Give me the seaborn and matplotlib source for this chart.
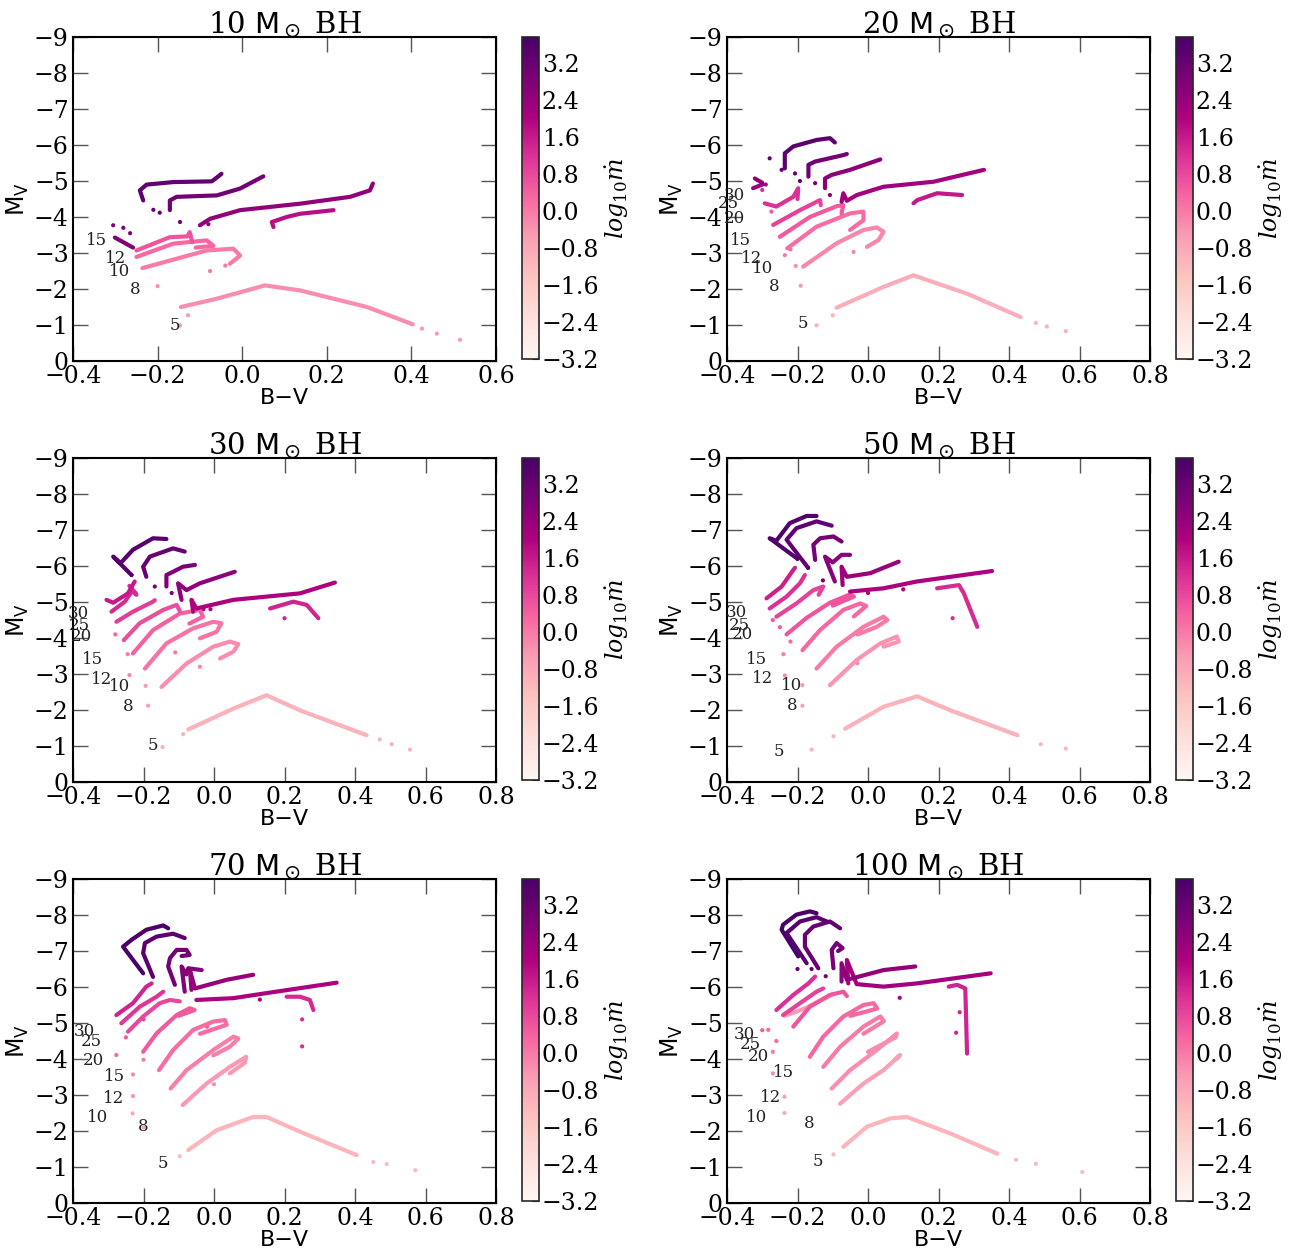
import numpy as np
import pandas as pd
import matplotlib
matplotlib.use("Agg")
import matplotlib.pyplot as plt
import seaborn as sns
from matplotlib.colors import Normalize
from matplotlib.cm import ScalarMappable
from matplotlib.ticker import FuncFormatter

# panel titles (black hole mass) and stellar masses used to label the tracks
bh_masses = [10, 20, 30, 50, 70, 100]
star_masses = [5, 8, 10, 12, 15, 20, 25, 30]

# colour scale of log10(mdot)
mdot_min, mdot_max = -3.2, 3.76
cbar_ticks = [-3.2, -2.4, -1.6, -0.8, 0.0, 0.8, 1.6, 2.4, 3.2]

# tracks: (log10 mdot, B-V values, M_V values)
tracks_10 = [
    (-0.3, [-0.145, -0.06, 0.054, 0.137, 0.295, 0.403], [-1.5, -1.73, -2.10, -1.96, -1.5, -1.02]),
    (0.0, [-0.236, -0.084, -0.021, -0.005, -0.029], [-2.58, -3.07, -3.12, -2.93, -2.7]),
    (0.3, [-0.25, -0.163, -0.084, -0.068, -0.11], [-2.89, -3.26, -3.35, -3.2, -3.15]),
    (0.6, [-0.25, -0.171, -0.13, -0.124, -0.118], [-3.07, -3.44, -3.46, -3.58, -3.3]),
    (2.8, [-0.301, -0.258], [-3.43, -3.15]),
    (3.3, [-0.234, -0.242, -0.226, -0.163, -0.072, -0.065, -0.049], [-4.46, -4.74, -4.9, -4.97, -4.99, -5.05, -5.2]),
    (3.0, [-0.171, -0.171, -0.155, -0.06, -0.005, 0.05], [-4.19, -4.46, -4.56, -4.6, -4.79, -5.13]),
    (2.5, [-0.1, -0.076, -0.005, 0.137, 0.255, 0.302, 0.309], [-3.77, -3.95, -4.19, -4.37, -4.56, -4.74, -4.93]),
    (1.8, [0.074, 0.07, 0.105, 0.137, 0.216], [-3.72, -3.86, -4.0, -4.09, -4.19]),
]
tracks_20 = [
    (-0.9, [-0.089, 0.044, 0.129, 0.281, 0.433], [-1.48, -2.06, -2.38, -1.87, -1.22]),
    (-0.2, [-0.184, -0.089, -0.013, 0.025, 0.044, 0.03, -0.003], [-2.62, -3.27, -3.64, -3.71, -3.59, -3.36, -3.17]),
    (0.2, [-0.229, -0.146, -0.051, -0.013, -0.013, -0.051], [-3.13, -3.73, -4.1, -4.15, -3.91, -3.64]),
    (0.5, [-0.25, -0.165, -0.089, -0.07, -0.075], [-3.45, -4.0, -4.3, -4.33, -4.1]),
    (0.9, [-0.269, -0.193, -0.136, -0.134], [-3.78, -4.19, -4.47, -4.33]),
    (1.2, [-0.293, -0.26, -0.212, -0.198, -0.2], [-4.38, -4.29, -4.56, -4.8, -4.5]),
    (2.3, [-0.326, -0.3], [-4.8, -4.9]),
    (2.6, [-0.321, -0.3], [-5.07, -4.95]),
    (3.4, [-0.236, -0.236, -0.212, -0.146, -0.108, -0.094], [-5.35, -5.77, -5.96, -6.14, -6.19, -6.07]),
    (3.0, [-0.169, -0.169, -0.15, -0.07, -0.06], [-5.12, -5.45, -5.54, -5.72, -5.75]),
    (2.6, [-0.122, -0.122, -0.103, -0.051, 0.035], [-4.8, -5.07, -5.17, -5.31, -5.6]),
    (2.2, [-0.075, -0.07, -0.06, -0.032, 0.044, 0.186, 0.329], [-4.42, -4.66, -4.45, -4.61, -4.84, -4.98, -5.31]),
    (1.6, [0.129, 0.14, 0.196, 0.267], [-4.38, -4.47, -4.66, -4.61]),
]
tracks_30 = [
    (-1.0, [-0.073, 0.055, 0.149, 0.244, 0.433], [-1.46, -2.04, -2.41, -1.99, -1.3]),
    (-0.3, [-0.149, -0.078, -0.002, 0.045, 0.069, 0.055, 0.017], [-2.64, -3.29, -3.76, -3.9, -3.83, -3.62, -3.43]),
    (0.1, [-0.196, -0.135, -0.059, -0.002, 0.021, 0.007, -0.04], [-3.15, -3.85, -4.27, -4.45, -4.41, -4.17, -3.99]),
    (0.4, [-0.23, -0.173, -0.097, -0.04, -0.031, -0.07], [-3.57, -4.22, -4.68, -4.78, -4.59, -4.4]),
    (0.7, [-0.256, -0.211, -0.144, -0.106, -0.097], [-3.94, -4.41, -4.78, -4.92, -4.75]),
    (1.0, [-0.277, -0.23, -0.173, -0.168], [-4.45, -4.73, -5.01, -5.05]),
    (1.3, [-0.291, -0.253, -0.23, -0.22, -0.24], [-4.73, -5.01, -5.33, -5.2, -5.45]),
    (1.6, [-0.305, -0.286, -0.244, -0.225], [-5.06, -4.98, -5.24, -5.57]),
    (3.5, [-0.234, -0.286, -0.265, -0.23, -0.173, -0.135], [-5.75, -6.26, -6.08, -6.45, -6.77, -6.75]),
    (3.2, [-0.192, -0.201, -0.182, -0.116, -0.083], [-5.7, -5.98, -6.26, -6.49, -6.4]),
    (2.8, [-0.135, -0.135, -0.116, -0.088, -0.054], [-5.43, -5.75, -5.84, -5.98, -6.03]),
    (2.5, [-0.092, -0.102, -0.078, -0.04, 0.059], [-5.06, -5.52, -5.33, -5.52, -5.84]),
    (2.0, [-0.059, -0.064, -0.05, 0.055, 0.244, 0.343], [-4.73, -5.06, -4.82, -5.06, -5.24, -5.54]),
    (1.4, [0.159, 0.225, 0.263, 0.296], [-4.82, -5.01, -4.92, -4.55]),
]
tracks_50 = [
    (-1.0, [-0.065, 0.044, 0.139, 0.234, 0.424], [-1.48, -2.09, -2.38, -1.99, -1.3]),
    (-0.4, [-0.108, -0.032, 0.035, 0.082, 0.087, 0.044], [-2.69, -3.39, -3.85, -4.04, -3.9, -3.76]),
    (0.0, [-0.146, -0.089, -0.013, 0.044, 0.055, 0.025, -0.03], [-3.15, -3.76, -4.31, -4.59, -4.5, -4.31, -4.1]),
    (0.3, [-0.186, -0.136, -0.07, -0.022, -0.005, -0.04], [-3.66, -4.22, -4.78, -4.96, -4.89, -4.6]),
    (0.6, [-0.231, -0.174, -0.108, -0.051, -0.04, -0.1], [-4.1, -4.56, -4.98, -5.21, -5.15, -4.9]),
    (0.9, [-0.26, -0.203, -0.155, -0.127, -0.14], [-4.59, -4.96, -5.33, -5.43, -5.2]),
    (1.2, [-0.279, -0.231, -0.193, -0.179], [-4.82, -5.15, -5.52, -5.75]),
    (1.5, [-0.288, -0.245, -0.212, -0.207], [-5.1, -5.43, -5.89, -5.95]),
    (3.6, [-0.2, -0.279, -0.26, -0.222, -0.174, -0.146], [-6.2, -6.77, -6.7, -7.19, -7.39, -7.39]),
    (3.3, [-0.17, -0.231, -0.203, -0.146, -0.103], [-5.95, -6.73, -7.05, -7.24, -7.12]),
    (2.9, [-0.15, -0.155, -0.136, -0.098, -0.075], [-6.17, -6.59, -6.77, -6.82, -6.68]),
    (2.6, [-0.094, -0.122, -0.1, -0.075, -0.051], [-5.57, -6.26, -6.1, -6.31, -6.31]),
    (2.3, [-0.072, -0.075, -0.06, 0.006, 0.087], [-5.47, -5.98, -5.7, -5.8, -6.12]),
    (2.0, [-0.051, 0.044, 0.139, 0.352], [-5.29, -5.38, -5.57, -5.86]),
    (1.3, [0.196, 0.258, 0.272, 0.31], [-5.38, -5.47, -5.24, -4.31]),
]
tracks_70 = [
    (-1.1, [-0.073, 0.007, 0.111, 0.149, 0.244, 0.405], [-1.47, -2.02, -2.39, -2.39, -1.98, -1.33]),
    (-0.5, [-0.089, -0.021, 0.045, 0.091, 0.088, 0.045], [-2.72, -3.32, -3.78, -4.06, -3.9, -3.6]),
    (-0.1, [-0.123, -0.078, -0.002, 0.055, 0.069, 0.045, -0.002], [-3.18, -3.69, -4.25, -4.62, -4.57, -4.34, -4.1]),
    (0.2, [-0.156, -0.116, -0.059, -0.002, 0.031, 0.036, -0.04], [-3.69, -4.25, -4.81, -5.04, -5.08, -4.95, -4.7]),
    (0.5, [-0.201, -0.163, -0.106, -0.069, -0.055, -0.1], [-4.2, -4.71, -5.22, -5.41, -5.36, -5.2]),
    (0.8, [-0.244, -0.201, -0.154, -0.125, -0.097], [-4.76, -5.18, -5.55, -5.64, -5.6]),
    (1.1, [-0.263, -0.211, -0.163, -0.144], [-4.99, -5.45, -5.73, -5.87]),
    (1.4, [-0.277, -0.23, -0.192, -0.177], [-5.22, -5.55, -6.01, -6.1]),
    (3.7, [-0.201, -0.258, -0.234, -0.192, -0.144, -0.13], [-6.38, -7.12, -7.31, -7.59, -7.71, -7.63]),
    (3.4, [-0.173, -0.201, -0.196, -0.163, -0.116, -0.083], [-6.28, -6.94, -7.22, -7.4, -7.48, -7.36]),
    (3.0, [-0.111, -0.13, -0.125, -0.106, -0.078, -0.069, -0.092], [-6.06, -6.57, -6.8, -7.03, -7.03, -6.89, -6.86]),
    (2.7, [-0.083, -0.092, -0.078, -0.073, -0.035], [-5.87, -6.57, -6.35, -6.52, -6.47]),
    (2.4, [-0.064, -0.068, -0.054, 0.036, 0.111], [-5.92, -6.45, -5.96, -6.2, -6.34]),
    (2.0, [-0.05, 0.055, 0.149, 0.348], [-5.64, -5.69, -5.83, -6.12]),
    (1.3, [0.206, 0.244, 0.272, 0.282], [-5.73, -5.73, -5.64, -5.36]),
]
tracks_100 = [
    (-1.1, [-0.07, -0.003, 0.063, 0.11, 0.234, 0.367], [-1.56, -2.12, -2.35, -2.39, -1.93, -1.37]),
    (-0.6, [-0.079, -0.013, 0.044, 0.091, 0.08], [-2.76, -3.32, -3.69, -4.11, -4.0]),
    (-0.3, [-0.103, -0.051, 0.025, 0.082, 0.078, 0.0], [-3.18, -3.69, -4.25, -4.71, -4.6, -4.2]),
    (0.0, [-0.127, -0.079, -0.013, 0.035, 0.045, -0.013], [-3.78, -4.34, -4.9, -5.18, -5.05, -4.7]),
    (0.3, [-0.165, -0.127, -0.07, -0.013, 0.016, 0.026, -0.05], [-4.06, -4.62, -5.18, -5.5, -5.55, -5.4, -5.2]),
    (0.6, [-0.212, -0.165, -0.108, -0.07, -0.06], [-4.9, -5.45, -5.78, -5.87, -5.75]),
    (0.9, [-0.241, -0.193, -0.146, -0.127], [-5.22, -5.55, -5.87, -5.96]),
    (-0.5, [-0.236, -0.18, -0.1], [-5.2, -5.4, -5.8]),
    (1.2, [-0.26, -0.212, -0.169, -0.15], [-5.36, -5.78, -6.1, -6.29]),
    (3.8, [-0.198, -0.245, -0.241, -0.203, -0.165, -0.146], [-6.85, -7.59, -7.73, -8.01, -8.1, -8.05]),
    (3.5, [-0.174, -0.231, -0.193, -0.146, -0.117], [-6.66, -7.5, -7.82, -7.94, -7.82]),
    (3.2, [-0.141, -0.179, -0.179, -0.155, -0.108, -0.079], [-6.52, -7.12, -7.45, -7.68, -7.82, -7.63]),
    (2.9, [-0.098, -0.103, -0.089, -0.072, -0.085], [-6.52, -7.03, -7.22, -7.08, -7.0]),
    (2.5, [-0.075, -0.075, -0.06, 0.044, 0.134], [-6.15, -6.66, -6.2, -6.47, -6.57]),
    (2.2, [-0.056, -0.06, -0.032, 0.044, 0.139, 0.348], [-6.1, -6.75, -6.08, -6.01, -6.1, -6.38]),
    (1.4, [0.229, 0.253, 0.276, 0.281], [-6.01, -6.06, -5.96, -4.15]),
]

# isolated points between the dense parts of the tracks: (B-V, M_V, log10 mdot)
dots_10 = [(-0.147, -0.99, -0.5), (-0.128, -1.27, -0.5), (0.425, -0.9, -0.5), (0.46, -0.76, -0.5),
           (0.515, -0.59, -0.5), (-0.2, -2.08, -0.3), (-0.076, -2.5, 0.0), (-0.04, -2.65, 0.0),
           (-0.305, -3.77, 2.8), (-0.281, -3.7, 2.8), (-0.265, -3.55, 2.8), (-0.195, -4.12, 3.3),
           (-0.21, -4.2, 3.3), (-0.147, -3.86, 3.0), (-0.08, -3.8, 2.5)]
dots_20 = [(-0.146, -0.99, -1.0), (-0.1, -1.27, -1.0), (0.476, -1.06, -1.0), (0.507, -0.96, -1.0),
           (0.561, -0.83, -1.0), (-0.191, -2.09, -0.5), (-0.041, -3.03, -0.2), (-0.205, -2.64, -0.3),
           (-0.236, -2.94, 0.0), (-0.22, -3.1, 0.2), (-0.274, -4.15, 0.5), (-0.279, -5.63, 3.2),
           (-0.245, -5.31, 3.2), (-0.207, -5.21, 3.2), (-0.193, -5.0, 3.2), (-0.15, -4.94, 3.0),
           (-0.108, -4.61, 2.6), (-0.3, -4.75, 1.2), (-0.29, -4.9, 2.0)]
dots_30 = [(-0.146, -0.97, -1.0), (-0.0875, -1.33, -1.0), (0.47, -1.18, -1.0), (0.504, -1.05, -1.0),
           (0.556, -0.9, -1.0), (-0.187, -2.12, -0.6), (-0.194, -2.67, -0.5), (-0.24, -2.97, -0.2),
           (-0.245, -3.55, 0.0), (-0.04, -3.2, -0.2), (-0.11, -3.6, 0.0), (-0.28, -4.1, 0.3),
           (-0.234, -5.75, 3.2), (-0.168, -5.43, 3.0), (-0.12, -5.25, 2.8), (0.2, -4.55, 1.4),
           (-0.03, -4.8, 2.0), (-0.01, -4.8, 2.0)]
dots_50 = [(-0.098, -1.27, -1.1), (-0.16, -0.9, -1.1), (0.49, -1.05, -1.1), (0.561, -0.93, -1.1),
           (-0.186, -2.12, -0.6), (-0.186, -2.69, -0.5), (-0.236, -2.96, -0.3), (-0.24, -3.55, 0.0),
           (-0.22, -3.9, 0.2), (-0.27, -4.5, 0.5), (-0.25, -4.3, 0.5), (-0.03, -3.3, -0.2),
           (0.24, -4.55, 1.3), (-0.2, -6.2, 3.3), (-0.17, -5.95, 3.3), (-0.128, -5.6, 3.0),
           (0.1, -5.35, 2.0), (0.0, -5.25, 2.0)]
dots_70 = [(-0.097, -1.3, -1.2), (0.452, -1.14, -1.2), (0.49, -1.08, -1.2), (0.571, -0.91, -1.2),
           (-0.2, -2.1, -0.8), (-0.231, -2.49, -0.8), (-0.23, -2.97, -0.4), (-0.23, -3.57, -0.2),
           (-0.2, -3.98, 0.0), (-0.277, -4.11, 0.3), (-0.25, -4.6, 0.5), (0.0, -3.3, -0.3),
           (0.25, -5.1, 1.3), (0.25, -4.35, 1.3), (-0.02, -4.9, 0.5), (-0.2, -5.1, 0.8),
           (0.13, -5.65, 2.0)]
dots_100 = [(-0.098, -1.35, -1.2), (0.476, -1.09, -1.2), (0.608, -0.86, -1.2), (0.42, -1.2, -1.2),
            (-0.237, -2.5, -0.8), (-0.237, -2.95, -0.6), (-0.27, -3.6, -0.3), (-0.27, -4.2, 0.0),
            (-0.283, -4.81, 0.3), (-0.26, -4.5, 0.3), (-0.3, -4.8, 0.5), (0.25, -4.73, 1.4),
            (0.26, -5.3, 1.4), (0.09, -5.7, 2.0), (-0.2, -6.5, 3.3), (-0.16, -6.5, 3.3),
            (-0.12, -6.3, 3.0)]

# where the stellar mass labels sit (B-V, M_V), in the order of star_masses
labels_10 = [(-0.159, -0.99), (-0.254, -2.0), (-0.29, -2.5), (-0.3, -2.84), (-0.345, -3.35)]
labels_20 = [(-0.184, -1.04), (-0.267, -2.06), (-0.3, -2.57), (-0.331, -2.85), (-0.362, -3.36),
             (-0.378, -3.96), (-0.397, -4.38), (-0.378, -4.61)]
labels_30 = [(-0.173, -1.02), (-0.244, -2.09), (-0.267, -2.64), (-0.32, -2.85), (-0.345, -3.39),
             (-0.376, -4.04), (-0.381, -4.36), (-0.386, -4.68)]
labels_50 = [(-0.252, -0.85), (-0.214, -2.13), (-0.217, -2.69), (-0.298, -2.87), (-0.315, -3.4),
             (-0.356, -4.1), (-0.364, -4.36), (-0.372, -4.7)]
labels_70 = [(-0.144, -1.11), (-0.201, -2.13), (-0.329, -2.37), (-0.286, -2.9), (-0.282, -3.51),
             (-0.343, -3.97), (-0.348, -4.48), (-0.367, -4.76)]
labels_100 = [(-0.141, -1.14), (-0.168, -2.21), (-0.317, -2.37), (-0.277, -2.92), (-0.241, -3.62),
              (-0.312, -4.06), (-0.335, -4.39), (-0.35, -4.67)]

all_tracks = [tracks_10, tracks_20, tracks_30, tracks_50, tracks_70, tracks_100]
all_dots = [dots_10, dots_20, dots_30, dots_50, dots_70, dots_100]
all_labels = [labels_10, labels_20, labels_30, labels_50, labels_70, labels_100]
x_max = [0.6, 0.8, 0.8, 0.8, 0.8, 0.8]

sns.set_style("ticks")
plt.rcParams["font.family"] = ["DejaVu Serif"]
plt.rcParams["mathtext.fontset"] = "dejavusans"
plt.rcParams["axes.linewidth"] = 1.5
plt.rcParams["text.color"] = "black"
plt.rcParams["axes.labelcolor"] = "black"
plt.rcParams["xtick.labelcolor"] = "black"
plt.rcParams["ytick.labelcolor"] = "black"


def minus_fmt(fmt):
    return FuncFormatter(lambda v, pos: (fmt % v).replace("-", "\u2212"))


W, H = 1298, 1259
fig = plt.figure(figsize=(W / 100, H / 100), dpi=100)
norm = Normalize(mdot_min, mdot_max)

ax_left = [73, 727]
ax_top = [37, 458, 879]
ax_w, ax_h = 423, 324
cb_left = [522, 1176]
cb_w = 17

for i, bh in enumerate(bh_masses):
    row, col = divmod(i, 2)
    ax = fig.add_axes([ax_left[col] / W, 1 - (ax_top[row] + ax_h) / H, ax_w / W, ax_h / H])

    rows = []
    for k, (m, bv, mv) in enumerate(all_tracks[i]):
        for x, y in zip(bv, mv):
            rows.append({"track": k, "bv": x, "mv": y, "logm": m})
    df = pd.DataFrame(rows)
    sns.lineplot(data=df, x="bv", y="mv", hue="logm", units="track", estimator=None,
                 sort=False, palette="RdPu", hue_norm=norm, legend=False, lw=3.0, ax=ax)

    dots = pd.DataFrame(all_dots[i], columns=["bv", "mv", "logm"])
    sns.scatterplot(data=dots, x="bv", y="mv", hue="logm", palette="RdPu", hue_norm=norm,
                    s=9, linewidth=0, legend=False, ax=ax)

    for m, (x, y) in zip(star_masses, all_labels[i]):
        ax.text(x, y, str(m), fontsize=12, ha="center", va="center", color="#222222")

    ax.set_xlim(-0.4, x_max[i])
    ax.set_ylim(0, -9)
    ax.set_xticks(np.arange(-0.4, x_max[i] + 0.01, 0.2))
    ax.set_yticks(np.arange(0, -9.5, -1))
    ax.xaxis.set_major_formatter(minus_fmt("%.1f"))
    ax.yaxis.set_major_formatter(minus_fmt("%d"))
    ax.tick_params(direction="in", top=True, right=True, length=11, width=1,
                   labelsize=17, pad=3, color="#555555")
    ax.set_xlabel("B\u2212V", family="DejaVu Sans", fontsize=16, labelpad=0)
    ax.set_ylabel(r"$\mathrm{M_V}$", fontsize=17, labelpad=2)
    ax.set_title(rf"{bh} $\mathrm{{M_\odot}}$ BH", fontsize=21, pad=3)
    for s in ax.spines.values():
        s.set_color("black")

    cax = fig.add_axes([cb_left[col] / W, 1 - (ax_top[row] + 322) / H, cb_w / W, 322 / H])
    cb = fig.colorbar(ScalarMappable(norm=norm, cmap="RdPu"), cax=cax, ticks=cbar_ticks)
    cb.ax.yaxis.set_major_formatter(minus_fmt("%.1f"))
    cb.ax.tick_params(direction="in", length=5, labelsize=17, pad=2)
    cb.outline.set_linewidth(1.2)
    cb.set_label(r"$log_{10}\dot{m}$", fontsize=17, math_fontfamily="dejavuserif", labelpad=3)

fig.savefig("out.png", dpi=100)
